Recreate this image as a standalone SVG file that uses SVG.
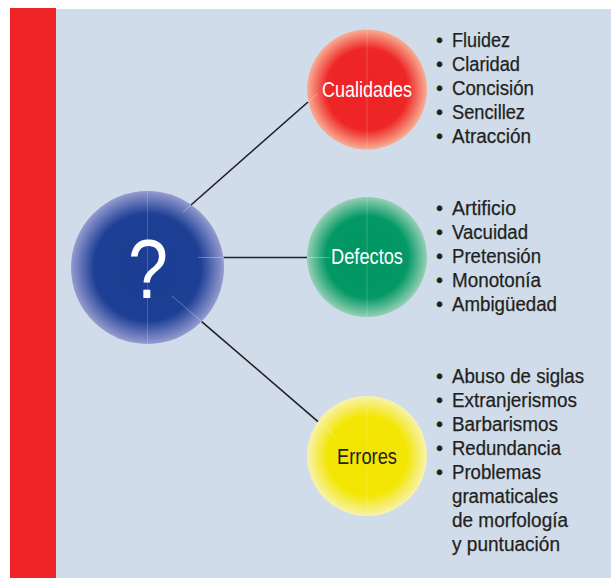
<svg xmlns="http://www.w3.org/2000/svg" width="611" height="578" viewBox="0 0 611 578">
<defs>
<radialGradient id="gBlue" cx="0.5" cy="0.5" r="0.5"><stop offset="0" stop-color="#1b3d93"/><stop offset="0.7" stop-color="#1d3f94"/><stop offset="1" stop-color="#959bd0"/></radialGradient>
<radialGradient id="gRed" cx="0.5" cy="0.5" r="0.5"><stop offset="0" stop-color="#ed2225"/><stop offset="0.68" stop-color="#ee2626"/><stop offset="1" stop-color="#f8ae94"/></radialGradient>
<radialGradient id="gGreen" cx="0.5" cy="0.5" r="0.5"><stop offset="0" stop-color="#009662"/><stop offset="0.68" stop-color="#039866"/><stop offset="1" stop-color="#95d0b4"/></radialGradient>
<radialGradient id="gYellow" cx="0.5" cy="0.5" r="0.5"><stop offset="0" stop-color="#f3e500"/><stop offset="0.66" stop-color="#f3e604"/><stop offset="1" stop-color="#f8f2ae"/></radialGradient>
<style>
.lbl{font-family:"Liberation Sans",Arial,sans-serif;font-size:21.5px;text-anchor:middle}
.it{font-family:"Liberation Sans",Arial,sans-serif;font-size:20px;fill:#231f20;stroke:#231f20;stroke-width:0.25}
.con{stroke:#231f20;stroke-width:1.6;fill:none}
.faint{stroke:#ffffff;stroke-opacity:0.3;stroke-width:1;fill:none}
.mid{stroke:#ffffff;stroke-opacity:0.18;stroke-width:1}
</style>
</defs>
<rect x="56" y="9" width="555" height="569" fill="#d0dcea"/>
<rect x="10" y="8" width="46" height="570" fill="#ee2427"/>

<g id="node-pregunta">
<circle cx="147.5" cy="267.5" r="76.5" fill="url(#gBlue)"/>
<line class="mid" x1="147.5" y1="191" x2="147.5" y2="344"/>
<text x="148" y="298" font-family="'Liberation Sans',Arial,sans-serif" font-size="84" fill="#ffffff" text-anchor="middle" textLength="40" lengthAdjust="spacingAndGlyphs">?</text>
</g>

<g id="node-cualidades">
<circle cx="367" cy="89.5" r="60" fill="url(#gRed)"/>
<line class="mid" x1="367" y1="29.5" x2="367" y2="149.5"/>
<text class="lbl" x="367" y="97" fill="#ffffff" textLength="90" lengthAdjust="spacingAndGlyphs">Cualidades</text>
<text class="it" x="436" y="47">•</text><text class="it" x="452" y="47" textLength="58" lengthAdjust="spacingAndGlyphs">Fluidez</text>
<text class="it" x="436" y="71">•</text><text class="it" x="452" y="71" textLength="68" lengthAdjust="spacingAndGlyphs">Claridad</text>
<text class="it" x="436" y="95">•</text><text class="it" x="452" y="95" textLength="82" lengthAdjust="spacingAndGlyphs">Concisión</text>
<text class="it" x="436" y="119">•</text><text class="it" x="452" y="119" textLength="73" lengthAdjust="spacingAndGlyphs">Sencillez</text>
<text class="it" x="436" y="143">•</text><text class="it" x="452" y="143" textLength="79" lengthAdjust="spacingAndGlyphs">Atracción</text>
</g>

<g id="node-defectos">
<circle cx="367" cy="257" r="60" fill="url(#gGreen)"/>
<line class="mid" x1="367" y1="197" x2="367" y2="317"/>
<text class="lbl" x="367" y="263.5" fill="#ffffff" textLength="72" lengthAdjust="spacingAndGlyphs">Defectos</text>
<text class="it" x="436" y="215">•</text><text class="it" x="452" y="215" textLength="64" lengthAdjust="spacingAndGlyphs">Artificio</text>
<text class="it" x="436" y="239">•</text><text class="it" x="452" y="239" textLength="76" lengthAdjust="spacingAndGlyphs">Vacuidad</text>
<text class="it" x="436" y="263">•</text><text class="it" x="452" y="263" textLength="89" lengthAdjust="spacingAndGlyphs">Pretensión</text>
<text class="it" x="436" y="287">•</text><text class="it" x="452" y="287" textLength="89" lengthAdjust="spacingAndGlyphs">Monotonía</text>
<text class="it" x="436" y="311">•</text><text class="it" x="452" y="311" textLength="105" lengthAdjust="spacingAndGlyphs">Ambigüedad</text>
</g>

<g id="node-errores">
<circle cx="367" cy="456" r="60" fill="url(#gYellow)"/>
<line class="mid" x1="367" y1="396" x2="367" y2="516"/>
<text class="lbl" x="367" y="463.5" fill="#231f20" textLength="60" lengthAdjust="spacingAndGlyphs">Errores</text>
<text class="it" x="436" y="383">•</text><text class="it" x="452" y="383" textLength="132" lengthAdjust="spacingAndGlyphs">Abuso de siglas</text>
<text class="it" x="436" y="407">•</text><text class="it" x="452" y="407" textLength="125" lengthAdjust="spacingAndGlyphs">Extranjerismos</text>
<text class="it" x="436" y="431">•</text><text class="it" x="452" y="431" textLength="106" lengthAdjust="spacingAndGlyphs">Barbarismos</text>
<text class="it" x="436" y="455">•</text><text class="it" x="452" y="455" textLength="109" lengthAdjust="spacingAndGlyphs">Redundancia</text>
<text class="it" x="436" y="479">•</text><text class="it" x="452" y="479" textLength="89" lengthAdjust="spacingAndGlyphs">Problemas</text>
<text class="it" x="452" y="503" textLength="106" lengthAdjust="spacingAndGlyphs">gramaticales</text>
<text class="it" x="452" y="527" textLength="116" lengthAdjust="spacingAndGlyphs">de morfología</text>
<text class="it" x="452" y="551" textLength="108" lengthAdjust="spacingAndGlyphs">y puntuación</text>
</g>

<g id="connectors">
<line class="con" x1="191" y1="205" x2="308" y2="102"/>
<line class="faint" x1="183" y1="212" x2="191" y2="205"/>
<line class="faint" x1="308" y1="102" x2="318" y2="93"/>
<line class="con" x1="223.5" y1="257.5" x2="307" y2="257.5"/>
<line class="faint" x1="198" y1="257.5" x2="223.5" y2="257.5"/>
<line class="faint" x1="307" y1="257.5" x2="330" y2="257.5"/>
<line class="con" x1="201.7" y1="321.6" x2="318" y2="421.6"/>
<line class="faint" x1="172" y1="296" x2="201.7" y2="321.6"/>
<line class="faint" x1="318" y1="421.6" x2="337" y2="438"/>
</g>
</svg>
